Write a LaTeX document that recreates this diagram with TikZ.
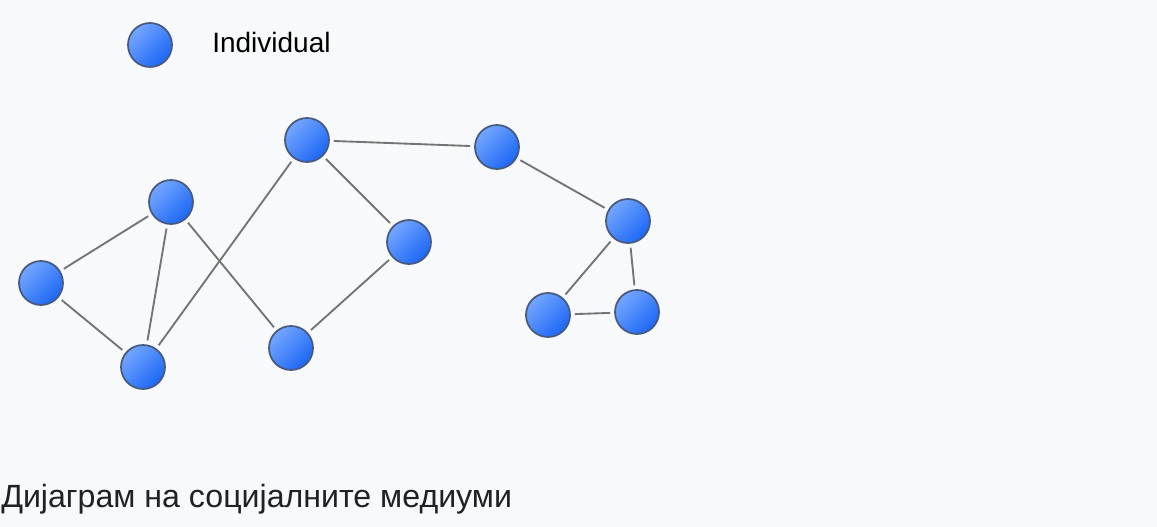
\documentclass[tikz,border=0pt]{standalone}
\usepackage{fontspec}
\setmainfont{Liberation Sans}
\definecolor{bg}{HTML}{F8F9FA}
\definecolor{ballhi}{HTML}{74A6FF}
\definecolor{balllo}{HTML}{1C67F5}
\definecolor{ballrim}{HTML}{46597E}
\definecolor{edgecol}{HTML}{747474}
\definecolor{captcol}{HTML}{202122}
\tikzset{
  person/.style={circle, minimum size=44*0.75pt, inner sep=0pt, draw=ballrim, line width=1.3pt,
    top color=ballhi, bottom color=balllo, shading angle=45},
  link/.style={draw=edgecol, line width=1.4pt, shorten >=3pt, shorten <=3pt},
}
\begin{document}
\begin{tikzpicture}[x=0.75pt,y=-0.75pt]
\fill[bg] (0,0) rectangle (1157,527);
\useasboundingbox (0,0) rectangle (1157,527);
% legend
\node[person] (leg) at (150,45) {};
\node[anchor=west, inner sep=0pt, font=\fontsize{21}{24}\selectfont] (legtxt) at (212,42) {Individual};
% nodes
\node[person] (a) at (171,202) {};
\node[person] (b) at (41,283) {};
\node[person] (c) at (143,367) {};
\node[person] (d) at (307,140) {};
\node[person] (e) at (409,242) {};
\node[person] (f) at (291,348) {};
\node[person] (g) at (497,147) {};
\node[person] (h) at (628,221) {};
\node[person] (i) at (548,315) {};
\node[person] (j) at (637,312) {};
% edges
\draw[link] (b) -- (a);
\draw[link] (b) -- (c);
\draw[link] (a) -- (c);
\draw[link] (a) -- (f);
\draw[link] (c) -- (d);
\draw[link] (d) -- (e);
\draw[link] (e) -- (f);
\draw[link] (d) -- (g);
\draw[link] (g) -- (h);
\draw[link] (h) -- (i);
\draw[link] (h) -- (j);
\draw[link] (i) -- (j);
% caption
\node[anchor=base west, inner sep=0pt, text=captcol, font=\fontsize{24.1}{27}\selectfont] (cap) at (1,507) {Дијаграм на социјалните медиуми};
\end{tikzpicture}
\end{document}
